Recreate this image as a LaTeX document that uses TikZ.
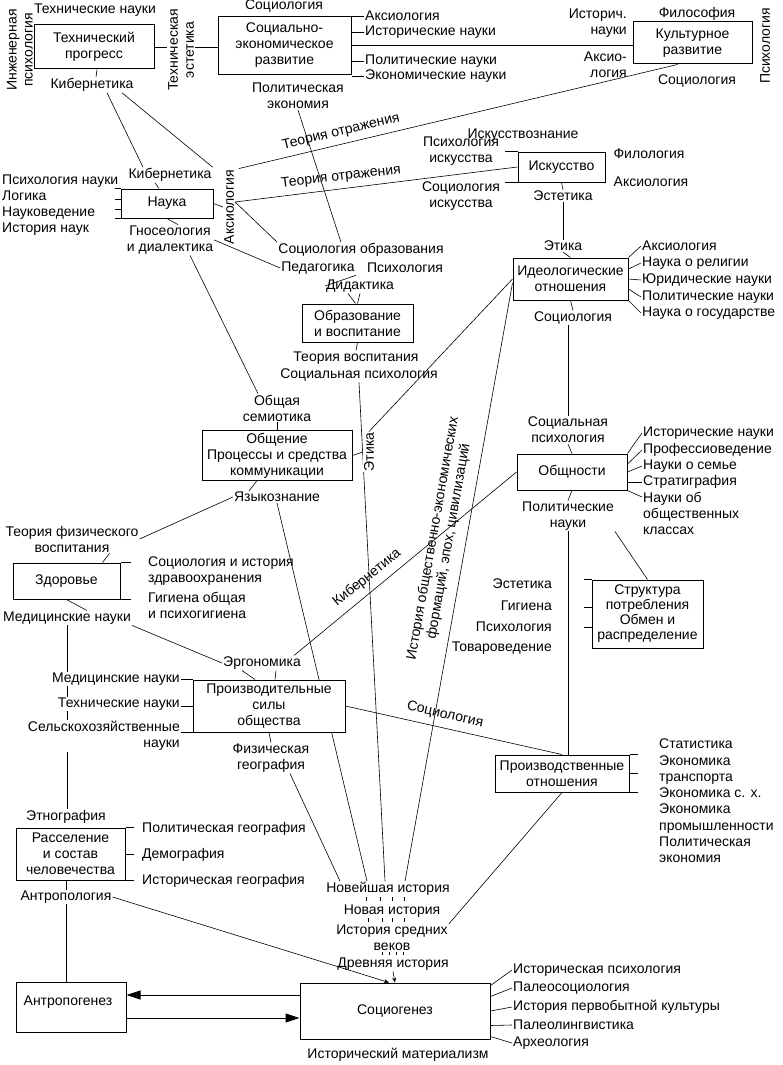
\documentclass[tikz,border=0pt]{standalone}
\usepackage{fontspec}
\setmainfont{Liberation Sans}
\usetikzlibrary{arrows.meta}
\pgfdeclarelayer{back}
\pgfdeclarelayer{bg}
\pgfsetlayers{back,bg,main}
\begin{document}
\begin{tikzpicture}[x=1pt,y=-1pt,
  every node/.style={font=\fontsize{14}{16}\selectfont, inner sep=1pt},
  box/.style={draw, line width=1pt, fill=white, align=center, inner sep=2pt},
  lb/.style={align=center},
  ln/.style={line width=0.6pt},
  bigtip/.style={line width=1pt, -{Triangle[length=14pt,width=9pt]}},
  smalltip/.style={-{Stealth[length=5pt,width=4pt]}}
]
\begin{pgfonlayer}{back}
\fill[white] (0,0) rectangle (782,1065);
\end{pgfonlayer}
\useasboundingbox (0,0) rectangle (782,1065);

% ---------- boxes
\node[box, minimum width=120pt, minimum height=44pt] (tp) at (94,47) {Технический\\прогресс};
\node[box, minimum width=133pt, minimum height=57pt] (se) at (284.5,45.5) {Социально-\\экономическое\\развитие};
\node[box, minimum width=119pt, minimum height=42pt] (kr) at (692.5,43) {Культурное\\развитие};
\node[box, minimum width=92pt, minimum height=29pt] (nauka) at (167,203.5) {Наука};
\node[box, minimum width=87pt, minimum height=30pt] (isk) at (561.5,167) {Искусство};
\node[box, minimum width=115pt, minimum height=42pt] (ideo) at (570.5,279) {Идеологические\\отношения};
\node[box, minimum width=111pt, minimum height=38pt] (obr) at (357.5,323) {Образование\\и воспитание};
\node[box, minimum width=150pt, minimum height=49pt] (obsh) at (277,455.5) {Общение\\Процессы и средства\\коммуникации};
\node[box, minimum width=110pt, minimum height=36pt] (obn) at (572,472) {Общности};
\node[box, minimum width=111pt, minimum height=68pt, font=\fontsize{14}{15}\selectfont] (str) at (647.5,614) {Структура\\потребления\\Обмен и\\распределение};
\node[box, minimum width=107pt, minimum height=36pt] (zd) at (66.5,581) {Здоровье};
\node[box, minimum width=152pt, minimum height=52pt] (prod) at (269,706) {Производительные\\силы\\общества};
\node[box, minimum width=134pt, minimum height=37pt] (prot) at (562,773.5) {Производственные\\отношения};
\node[box, minimum width=109pt, minimum height=52pt] (ras) at (70.5,854) {Расселение\\и состав\\человечества};
\node[box, minimum width=110pt, minimum height=50pt] (ag) at (71,1007) {};
\node[box, minimum width=190pt, minimum height=56pt] (sg) at (395,1011) {Социогенез};

% ---------- labels: top
\node[lb] (tn) at (95,10) {Технические науки};
\node[lb, rotate=90] (ipsy) at (20,50) {Инженерная\\психология};
\node[lb] (kib1) at (92,85) {Кибернетика};
\node[lb, rotate=90, fill=white] (te) at (181,50) {Техническая\\эстетика};
\node[lb] (soc1) at (284,6) {Социология};
\node[lb] (pe) at (298,96) {Политическая\\экономия};
\node[lb, anchor=west] (ak1) at (364,16) {Аксиология};
\node[lb, anchor=west] (hs1) at (364,32) {Исторические науки};
\node[lb, anchor=west] (pn1) at (364,61) {Политические науки};
\node[lb, anchor=west] (en1) at (364,76) {Экономические науки};
\node[lb, align=right, anchor=east] (hn2) at (628,23) {Историч.\\науки};
\node[lb, align=right, anchor=east] (ak2) at (628,65) {Аксио-\\логия};
\node[lb] (fil) at (697,14) {Философия};
\node[lb] (soc2) at (697,81) {Социология};
\node[lb, rotate=90] (ps1) at (765,46) {Психология};

% ---------- Наука
\node[lb] (kib2) at (170,175) {Кибернетика};
\node[lb, anchor=west] (psn) at (1,181) {Психология науки};
\node[lb, anchor=west] (logi) at (1,196) {Логика};
\node[lb, anchor=west] (nv) at (1,213) {Науковедение};
\node[lb, anchor=west] (hn) at (1,229) {История наук};
\node[lb] (gno) at (170,240) {Гносеология\\и диалектика};
\node[lb, rotate=90] (ak3) at (229,207) {Аксиология};
\node[lb, rotate=13.3] (to1) at (341,132) {Теория отражения};
\node[lb, rotate=6.6] (to2) at (341,177) {Теория отражения};

% ---------- Искусство
\node[lb] (iskz) at (523,135) {Искусствознание};
\node[lb] (psi) at (461,151) {Психология\\искусства};
\node[lb] (soi) at (461,196) {Социология\\искусства};
\node[lb] (fl) at (649,154) {Филология};
\node[lb] (ak4) at (651,182) {Аксиология};
\node[lb] (est) at (563,196) {Эстетика};
\node[lb] (et1) at (563,246) {Этика};

% ---------- Идеологические отношения
\node[lb, anchor=west] (i1) at (641,246) {Аксиология};
\node[lb, anchor=west] (i2) at (641,263) {Наука о религии};
\node[lb, anchor=west] (i3) at (641,280) {Юридические науки};
\node[lb, anchor=west] (i4) at (641,297) {Политические науки};
\node[lb, anchor=west] (i5) at (641,313) {Наука о государстве};
\node[lb] (soc3) at (573,318) {Социология};

% ---------- Образование
\node[lb] (sobr) at (361,250) {Социология образования};
\node[lb] (ped) at (318,268) {Педагогика};
\node[lb] (psy2) at (405,268) {Психология};
\node[lb] (did) at (360,286) {Дидактика};
\node[lb] (tv) at (356,358) {Теория воспитания};
\node[lb] (sps) at (359,375) {Социальная психология};

% ---------- Общение
\node[lb] (osem) at (277,408) {Общая\\семиотика};
\node[lb] (yaz) at (277,497) {Языкознание};
\node[lb, rotate=90, fill=white] (et2) at (369,452) {Этика};

% ---------- Общности
\node[lb] (sps2) at (568,430) {Социальная\\психология};
\node[lb, anchor=west] (o1) at (642,433) {Исторические науки};
\node[lb, anchor=west] (o2) at (642,450) {Профессиоведение};
\node[lb, anchor=west] (o3) at (642,466) {Науки о семье};
\node[lb, anchor=west] (o4) at (642,482) {Стратиграфия};
\node[lb, anchor=west, align=left] (o5) at (642,513) {Науки об\\общественных\\классах};
\node[lb] (pn) at (568,516) {Политические\\науки};

% ---------- Структура потребления
\node[lb, anchor=east] (e1) at (553,584) {Эстетика};
\node[lb, anchor=east] (e2) at (553,606) {Гигиена};
\node[lb, anchor=east] (e3) at (553,627) {Психология};
\node[lb, anchor=east] (e4) at (553,648) {Товароведение};

% ---------- Здоровье
\node[lb] (tfv) at (72,539) {Теория физического\\воспитания};
\node[lb, anchor=west, align=left] (sih) at (147,571) {Социология и история\\здравоохранения};
\node[lb, anchor=west, align=left] (gig) at (147,605) {Гигиена общая\\и психогигиена};
\node[lb] (mn1) at (67,618) {Медицинские науки};

% ---------- Производительные силы
\node[lb] (erg) at (262,663) {Эргономика};
\node[lb, anchor=east, fill=white] (mn2) at (181,679) {Медицинские науки};
\node[lb, anchor=east, fill=white] (tn2) at (181,704) {Технические науки};
\node[lb, anchor=east, align=right, fill=white] (sh) at (181,736) {Сельскохозяйственные\\науки};
\node[lb] (fg) at (271,758) {Физическая\\география};

% ---------- long rotated labels
\node[lb, rotate=80] (hf) at (441,540) {История общественно-экономических\\формаций, эпох, цивилизаций};
\node[lb, rotate=39] (kib3) at (367,578) {Кибернетика};
\node[lb, rotate=-13] (soc4) at (445,715) {Социология};

% ---------- Производственные отношения
\node[lb, anchor=west, align=left, font=\fontsize{14}{16.3}\selectfont] (stat) at (658,801) {Статистика\\Экономика\\транспорта\\Экономика с. х.\\Экономика\\промышленности\\Политическая\\экономия};

% ---------- Расселение
\node[lb] (etn) at (66,817) {Этнография};
\node[lb, anchor=west] (pg) at (141,829) {Политическая география};
\node[lb, anchor=west] (dem) at (141,855) {Демография};
\node[lb, anchor=west] (hg) at (141,881) {Историческая география};
\node[lb] (ant) at (66,897) {Антропология};

% ---------- bottom
\node[lb] (agt) at (68,1002) {Антропогенез};
\node[lb] (hm) at (398,1055) {Исторический материализм};
\node[lb] (h1) at (388,889) {Новейшая история};
\node[lb] (h2) at (392,911) {Новая история};
\node[lb] (h3) at (392,938) {История средних\\веков};
\node[lb] (h4) at (393,964) {Древняя история};
\node[lb, anchor=west] (r1) at (512,970) {Историческая психология};
\node[lb, anchor=west] (r2) at (512,988) {Палеосоциология};
\node[lb, anchor=west] (r3) at (512,1007) {История первобытной культуры};
\node[lb, anchor=west] (r4) at (512,1025) {Палеолингвистика};
\node[lb, anchor=west] (r5) at (512,1043) {Археология};

% ---------- connectors
\begin{pgfonlayer}{bg}
\draw[ln] (tp.east) -- (tp.east -| se.west);
\draw[ln] (se.east) -- (se.east -| kr.west);
\foreach \n in {ak1,hs1,pn1,en1} {\draw[ln] (se.east |- \n.west) -- (\n.west);}
\draw[ln] ([xshift=4pt]kib1.north) -- ([xshift=3pt]tp.south);
\draw[ln] ([xshift=15pt]kib1.south) -- ([xshift=-27pt]kib2.north);
\draw[ln] ([xshift=30pt]kib1.south) -- (kib2.north east);
\draw[ln] ([xshift=-15pt]kr.south) -- ([xshift=10pt]ak3.east);
\draw[ln] ([yshift=5pt]ak3.south) -- (isk.west);
\draw[ln] ([yshift=5pt]ak3.south) -- (sobr.north west);
\draw[ln] (gno.east) -- (ped.west);
\draw[ln] ([xshift=20pt]gno.south) -- ([xshift=-19pt]osem.north);
\draw[ln] (pe.south) -- ([xshift=-20pt]sobr.north);
\draw[ln] (nauka.east) -- (ak3.north);
\draw[ln] ([xshift=-15pt]kib2.south) -- ([xshift=-8pt]nauka.north);
\draw[ln] (nauka.south) -- ([xshift=8pt]gno.north);
\draw[ln] (nauka.north west) -- ++(-6,0);
\draw[ln] ([yshift=4pt]nauka.west) -- ++(-6,0);
\draw[ln] ([yshift=-6pt]nauka.west) -- ++(-6,0);
\draw[ln] (nauka.south west) -- ++(-6,0);
% Искусство
\draw[ln] (isk.north west) -- ++(-13,0);
\draw[ln] (isk.south west) -- ++(-13,0);
\draw[ln] (isk.south) -- (est.north);
\draw[ln] (est.south) -- (et1.north);
\draw[ln] (et1.south) -- (ideo.north);
% Идеологические
\draw[ln] (ideo.north east) -- (i1.west);
\draw[ln] ([yshift=10pt]ideo.east) -- (i2.west);
\draw[ln] (ideo.east) -- (i3.west);
\draw[ln] ([yshift=-10pt]ideo.east) -- (i4.west);
\draw[ln] (ideo.south east) -- (i5.west);
\draw[ln] (ideo.south) -- (soc3.north);
\draw[ln] (soc3.south -| sps2.north) -- (sps2.north);
\draw[ln] (sps2.south) -- (obn.north);
\draw[ln] (ideo.west) -- (et2.east);
\draw[ln] ([yshift=-4pt]ideo.west) -- ([xshift=17pt]h1.north);
\draw[ln] (et2.north) -- (obsh.east);
% Общности
\draw[ln] (obn.north east) -- (o1.west);
\draw[ln] ([yshift=8pt]obn.east) -- (o2.west);
\draw[ln] (obn.east) -- (o3.west);
\draw[ln] ([yshift=-10pt]obn.east) -- (o4.west);
\draw[ln] (obn.south east) -- ([yshift=16pt]o5.west);
\draw[ln] (obn.west) -- ([xshift=-8pt]erg.north east);
\draw[ln] (obn.south) -- (pn.north);
\draw[ln] (pn.south) -- (pn.south |- prot.north);
\draw[ln] (pn.south east) -- (str.north);
% Структура
\draw[ln] (str.north west) -- ++(-8,0);
\draw[ln] ([yshift=7pt]str.west) -- ++(-8,0);
\draw[ln] ([yshift=-13pt]str.west) -- ++(-8,0);
% Образование
\draw[ln] (ped.south east) -- (did.west);
\draw[ln] ([xshift=-12pt]did.south) -- ([xshift=-2pt]obr.north);
\draw[ln] (did.south) -- (obr.north);
\draw[ln] (obr.south) -- (tv.north);
\draw[ln] (sps.south) -- ([xshift=-3pt]h1.north);
% Общение
\draw[ln] (osem.south) -- (obsh.north);
\draw[ln] ([xshift=-28pt]yaz.north) -- ([xshift=-20pt]obsh.south);
\draw[ln] (yaz.west) -- (tfv.east);
\draw[ln] (yaz.south) -- ([xshift=-21pt]h1.north);
% Здоровье
\draw[ln] (zd.north east) -- ++(10,0);
\draw[ln] (zd.south east) -- ++(10,0);
\draw[ln] ([xshift=36pt]zd.north) -- ([xshift=-30pt]tfv.south east);
\draw[ln] (zd.south) -- ([xshift=20pt]mn1.north);
\draw[ln] (mn1.south) -- (mn1.south |- etn.north);
\draw[ln] (mn1.south east) -- (erg.west);
% Производительные силы
\draw[ln] ([xshift=-20pt]erg.south) -- ([xshift=-14pt]prod.north);
\draw[ln] ([xshift=14pt]erg.south) -- ([xshift=6pt]prod.north);
\draw[ln] (prod.north west) -- (mn2.east |- prod.north west);
\draw[ln] (prod.west) -- (tn2.east |- prod.west);
\draw[ln] (prod.south west) -- (sh.east |- prod.south west);
\draw[ln] (prod.south) -- (fg.north);
\draw[ln] (prod.east) -- (prot.north);
\draw[ln] ([xshift=19pt]fg.south) -- ([xshift=-48pt]h1.north);
% Производственные отношения
\draw[ln] (prot.north east) -- ++(8,0);
\draw[ln] (prot.east) -- ++(8,0);
\draw[ln] (prot.south east) -- ++(8,0);
\draw[ln] (prot.south) -- (h3.north east);
% Расселение
\draw[ln] (ras.north east) -- ++(8,0);
\draw[ln] (ras.east) -- ++(8,0);
\draw[ln] (ras.south east) -- ++(8,0);
\draw[ln] (ant.north |- ras.south) -- (ant.north);
\draw[ln] (ant.south) -- (ant.south |- ag.north);
\draw[ln, smalltip] (ant.east) -- ([xshift=-6pt]sg.north);
% history ticks
\foreach \dx in {-22,-8,4,16} {\draw[ln] ([xshift=\dx pt]h1.south) -- ([xshift=\dx pt, yshift=-4pt]h1.south);}
\foreach \dx in {-24,-10,0,12} {\draw[ln] ([xshift=\dx pt]h2.south) -- ([xshift=\dx pt, yshift=-4pt]h2.south);}
\foreach \dx in {-10,-3,4,11} {\draw[ln] ([xshift=\dx pt]h3.south) -- ([xshift=\dx pt, yshift=-3pt]h3.south);}
\draw[ln, smalltip] (h4.south) -- (sg.north);
% Социогенез / Антропогенез
\draw[bigtip] ([yshift=16pt]sg.west) -- ([yshift=16pt]sg.west -| ag.east);
\draw[bigtip] ([yshift=-11pt]ag.east) -- ([yshift=-11pt]ag.east -| sg.west);
\draw[bigtip] ([xshift=-14pt,yshift=-11pt]ag.east) -- ([xshift=12pt,yshift=-11pt]ag.west);
\draw[ln] ([yshift=-3pt]sg.north east) -- (r1.west);
\draw[ln] ([yshift=-14pt]sg.north east) -- (r2.west);
\draw[ln] (sg.east) -- (r3.west);
\draw[ln] ([yshift=14pt]sg.south east) -- (r4.west);
\draw[ln] ([yshift=3pt]sg.south east) -- (r5.west);
\end{pgfonlayer}
\end{tikzpicture}
\end{document}
